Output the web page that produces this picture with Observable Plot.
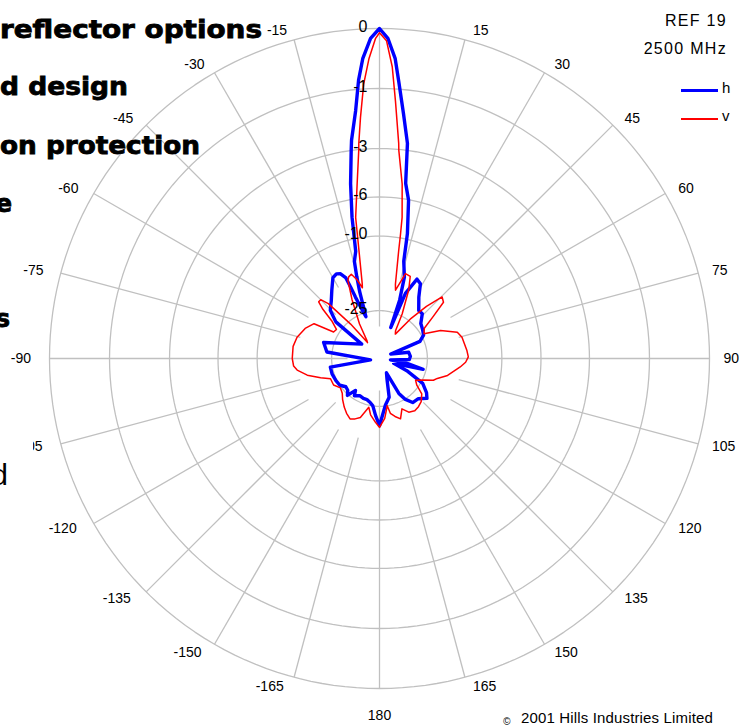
<!DOCTYPE html>
<html>
<head>
<meta charset="utf-8">
<script src="https://cdn.jsdelivr.net/npm/d3@7"></script>
<script src="https://cdn.jsdelivr.net/npm/@observablehq/plot@0.6"></script>
<style>
html, body { margin: 0; padding: 0; background: #fff; width: 742px; height: 727px; overflow: hidden; }
#wrap { position: relative; width: 742px; height: 727px; font-family: "Liberation Sans", Arial, sans-serif; color: #000; }
#chart { position: absolute; left: 0; top: 0; }
.t { position: absolute; white-space: nowrap; line-height: 16px; }
.sw { position: absolute; }
</style>
</head>
<body>
<div id="wrap">
  <div id="chart"></div>
  <div class="t" style="right:15px; top:13px; font-size:16px; letter-spacing:1.3px;">REF 19</div>
  <div class="t" style="right:15px; top:41px; font-size:16px; letter-spacing:1.3px;">2500 MHz</div>
  <div class="sw" style="left:681px; top:88.5px; width:37px; height:3px; background:#0000ff;"></div>
  <div class="t" style="left:722px; top:80px; font-size:15px;">h</div>
  <div class="sw" style="left:681px; top:118px; width:37px; height:1.5px; background:#ff0000;"></div>
  <div class="t" style="left:722px; top:108px; font-size:15px;">v</div>
  <div class="t" style="left:503px; top:714px; font-size:10px; font-style:italic;">©</div>
  <div class="t" style="left:521px; top:710px; font-size:15px; letter-spacing:0.15px;">2001 Hills Industries Limited</div>
  <svg id="ov" width="742" height="727" style="position:absolute; left:0; top:0; pointer-events:none;">
    <rect x="0" y="436" width="33" height="20" fill="#fff"></rect>
    <g font-family="DejaVu Sans, sans-serif" font-weight="bold" font-size="24" fill="#000" stroke="#000" stroke-width="0.8" text-anchor="end">
      <text x="262" y="38" textLength="262" lengthAdjust="spacingAndGlyphs">reflector options</text>
      <text x="128" y="95" textLength="128" lengthAdjust="spacingAndGlyphs">d design</text>
      <text x="200" y="154" textLength="200" lengthAdjust="spacingAndGlyphs">on protection</text>
      <text x="12" y="212">e</text>
      <text x="10" y="327">s</text>
    </g>
    <text x="8" y="485" font-family="Liberation Sans, Arial, sans-serif" font-size="30" text-anchor="end" fill="#000">d</text>
  </svg>
</div>
<script>
// ---- data (dB relative to peak) ----
const hAngles = [-180,-176,-172,-168,-163,-158,-152,-146,-143,-139,-135,-130,-124,-117,-108,-100,-99,-83,-74,-51,-50,-45.6,-40,-35,-30,-27,-24.7,-22.7,-22,-21.4,-19,-18,-16.5,-15.5,-14.5,-12.5,-11,-9.4,-7.75,-7.3,-5.5,-4.3,-3.2,-1.6,0,1.5,3,4,5.6,7.4,8.5,10.4,12.6,14,17,19,20,21.7,25.3,28.7,32.7,39.3,43.7,49.8,56,62,67,69,78,86,92,97,100,104,109,114,120,126,130,136,143,148,151,154,160,166,172.7,176,180];
const hDb = [-19.8,-22.4,-25.0,-25.9,-26.5,-26.5,-26.8,-25.9,-27.5,-24.7,-25.9,-26.2,-25.0,-24.7,-24.4,-24.4,-39.7,-23.5,-22.1,-33.7,-22.4,-19.4,-18.0,-16.3,-14.4,-14.1,-14.4,-15.4,-17.6,-20.1,-25.0,-26.2,-19.1,-15.9,-13.2,-11.7,-7.57,-4.85,-3.0,-2.56,-1.55,-0.80,-0.41,-0.12,0,-0.12,-0.41,-0.84,-1.64,-2.69,-4.85,-6.04,-9.31,-13.2,-15.9,-21.1,-29.9,-19.1,-15.4,-15.9,-18.5,-21.1,-21.1,-23.2,-23.8,-24.4,-26.2,-38.3,-31.0,-30.6,-31.0,-38.8,-31.7,-25.9,-37.0,-31.0,-24.4,-22.1,-21.1,-22.7,-22.9,-25.0,-27.5,-36.6,-34.1,-27.5,-25.3,-23.2,-19.8];

const vAngles = [-180,-176.4,-171,-167.6,-162,-158,-154,-149,-144,-138,-133,-127,-120,-112.5,-108,-103,-98,-95,-90,-82,-75.5,-68,-62,-60,-56,-52,-49,-47,-45,-43,-40,-37,-35,-30,-25,-22,-20.7,-18.5,-16,-13.6,-13,-10.8,-9.6,-7.3,-5.7,-5.5,-4.5,-3.3,-2,-0.7,0,1.26,2.5,3.55,5.1,5.3,7.4,9.1,9.6,10.1,12.1,13.2,15,17,20.5,23,27,30,33,38,42,45.5,48.7,52,56,61,65.3,71.3,75.6,84.8,89,92.5,96,104,109,112,116,121,125.6,130,136,141,146,151.4,156,160.8,165,168.8,170.7,175,180];
const vDb = [-19.4,-20.6,-22.4,-24.4,-21.1,-20.3,-19.8,-20.6,-21.6,-22.9,-24.1,-24.7,-23.5,-23.5,-21.1,-18.2,-16.3,-15.7,-15.5,-15.5,-15.9,-16.9,-18.2,-23.5,-23.8,-21.6,-18.0,-16.3,-16.3,-18.0,-25.9,-34.9,-34.1,-27.5,-20.3,-16.1,-15.5,-15.2,-16.5,-18.5,-17.6,-11.8,-7.67,-4.92,-3.04,-2.73,-1.76,-0.89,-0.41,-0.12,-0.05,-0.15,-0.55,-1.30,-2.73,-3.04,-4.92,-7.67,-9.55,-11.8,-17.8,-19.1,-17.4,-15.2,-15.4,-18.0,-24.4,-30.2,-31.3,-24.4,-19.1,-15.4,-15.9,-19.6,-23.2,-24.1,-19.8,-16.5,-15.9,-15.4,-15.2,-15.7,-16.7,-19.1,-21.3,-22.1,-24.7,-26.8,-25.6,-22.9,-21.6,-21.1,-20.8,-21.3,-22.9,-20.6,-21.6,-22.7,-25.0,-21.6,-19.4];

const ringDb = [0, -1, -3, -6, -10, -25];
const ringLabels = ["0", "-1", "-3", "-6", "-10", "-25"];
const spokeAngles = [-165,-150,-135,-120,-105,-90,-75,-60,-45,-30,-15,0,15,30,45,60,75,90,105,120,135,150,165,180];
const angleTicks = [15,30,45,60,75,90,105,120,135,150,165,180,-15,-30,-45,-60,-75,-90,-105,-120,-135,-150,-165];
const angleTickLabels = ["15","30","45","60","75","90","105","120","135","150","165","180","-15","-30","-45","-60","-75","-90","-105","-120","-135","-150","-165"];

// ---- radial scale: logarithmic in (1 - dB), centre at about -44 dB ----
const FLOOR = 45.19;
const rho = db => Math.max(0, 1 - Math.log(1 - db) / Math.log(FLOOR));
const rad = a => a * Math.PI / 180;
const px = 330; // pixels per unit radius, used only for label offsets

const toPts = (angles, dbs, name) => angles.map((a, i) => {
  const r = rho(dbs[i]);
  return {name, a, db: dbs[i], x: r * Math.sin(rad(a)), y: r * Math.cos(rad(a))};
});
const hData = toPts(hAngles, hDb, "h");
const vData = toPts(vAngles, vDb, "v");

const ringPts = ringDb.flatMap(db => d3.range(0, 361, 2).map(a => ({
  db, x: rho(db) * Math.sin(rad(a)), y: rho(db) * Math.cos(rad(a))
})));

const spokeInner = a => (a % 90 === 0 ? 32 : a % 45 === 0 ? 62 : 82) / px;
const spokes = spokeAngles.map(a => ({
  x1: spokeInner(a) * Math.sin(rad(a)), y1: spokeInner(a) * Math.cos(rad(a)),
  x2: Math.sin(rad(a)), y2: Math.cos(rad(a))
}));

const tickData = angleTicks.map((a, i) => {
  const s = Math.sin(rad(a)), c = Math.cos(rad(a));
  let anchor, ox, oy;
  if (a === 180) { anchor = "middle"; ox = 0; oy = -27 / px; }
  else if (a > 0) { anchor = "start"; ox = (6 + 8 * Math.abs(s)) / px; oy = 9.5 * c / px; }
  else { anchor = "end"; ox = -(7.5 + 11 * Math.abs(s) - 3.5 * Math.abs(c) * (c > 0 ? 1 : 0)) / px; oy = 10 * c / px; }
  return {t: angleTickLabels[i], anchor, x: s + ox, y: c + oy};
});

const ringLabelData = ringDb.map((db, i) => ({t: ringLabels[i], y: rho(db)}));

const grid = "#c0c0c0";
const chart = Plot.plot({
  width: 742,
  height: 727,
  marginLeft: 49,
  marginRight: 33,
  marginTop: 28,
  marginBottom: 39,
  x: {domain: [-1, 1], axis: null},
  y: {domain: [-1, 1], axis: null},
  style: {fontFamily: "'Liberation Sans', Arial, sans-serif", background: "white", color: "black", overflow: "visible"},
  marks: [
    Plot.line(ringPts, {x: "x", y: "y", z: "db", stroke: grid, strokeWidth: 1.3}),
    Plot.link(spokes, {x1: "x1", y1: "y1", x2: "x2", y2: "y2", stroke: grid, strokeWidth: 1.3}),
    Plot.line(hData, {x: "x", y: "y", stroke: "#0000ff", strokeWidth: 3.4, strokeLinejoin: "round"}),
    Plot.line(vData, {x: "x", y: "y", stroke: "#ff0000", strokeWidth: 1.5, strokeLinejoin: "round"}),
    Plot.text(tickData.filter(d => d.anchor === "start"), {x: "x", y: "y", text: "t", textAnchor: "start", fontSize: 14, fill: "black", ariaLabel: "angle-labels"}),
    Plot.text(tickData.filter(d => d.anchor === "end"), {x: "x", y: "y", text: "t", textAnchor: "end", fontSize: 14, fill: "black", ariaLabel: "angle-labels"}),
    Plot.text(tickData.filter(d => d.anchor === "middle"), {x: "x", y: "y", text: "t", textAnchor: "middle", fontSize: 14, fill: "black", ariaLabel: "angle-labels"}),
    Plot.text(ringLabelData, {x: 0, y: "y", text: "t", textAnchor: "end", dx: -12, dy: -2, fontSize: 16, fill: "black", ariaLabel: "ring-labels"})
  ]
});
document.getElementById("chart").appendChild(chart);
d3.select(chart).selectAll('g[aria-label="angle-labels"]').style("letter-spacing", "1px");
</script>
</body>
</html>
